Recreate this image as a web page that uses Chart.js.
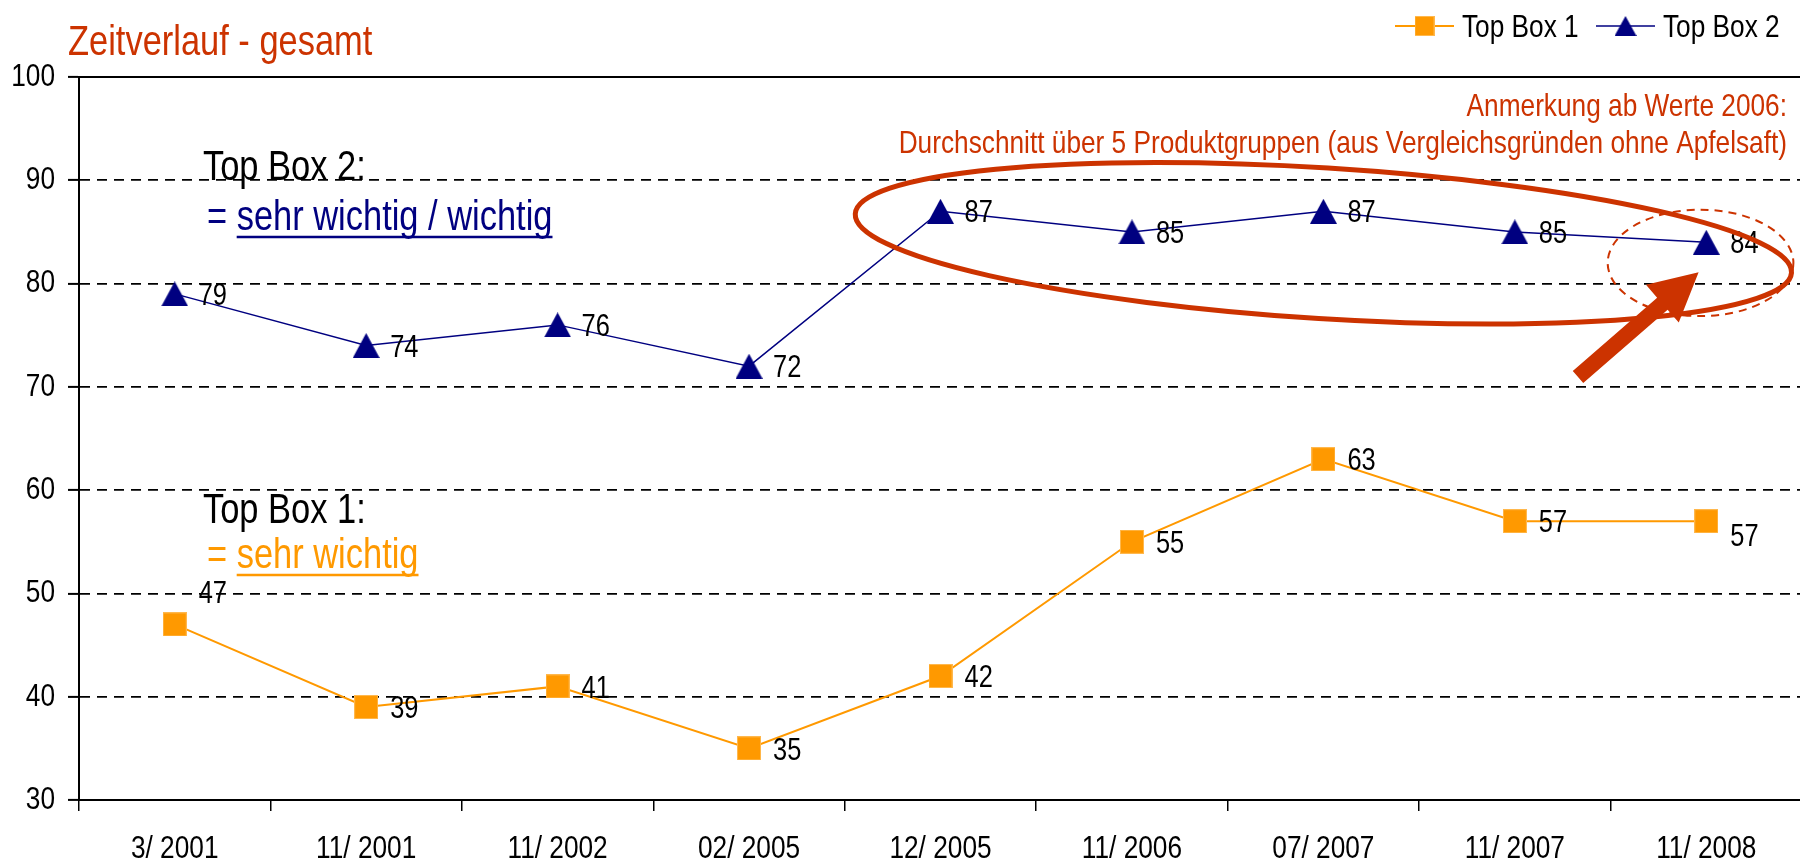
<!DOCTYPE html>
<html><head><meta charset="utf-8">
<script src="https://cdn.jsdelivr.net/npm/chart.js@4.4.1/dist/chart.umd.min.js"></script>
<style>
html,body{margin:0;padding:0;overflow:hidden;background:#fff;width:1800px;height:861px}
#wrap{position:relative;width:1808px;height:861px}
canvas{display:block}
</style></head><body>
<div id="wrap"><canvas id="c" width="1808" height="861"></canvas></div>
<script>
// ---- data ----
const categories = ['3/ 2001','11/ 2001','11/ 2002','02/ 2005','12/ 2005','11/ 2006','07/ 2007','11/ 2007','11/ 2008'];
const topBox1 = [47, 39, 41, 35, 42, 55, 63, 57, 57];
const topBox2 = [79, 74, 76, 72, 87, 85, 87, 85, 84];
const yTicks = [30, 40, 50, 60, 70, 80, 90, 100];
const seriesNames = ['Top Box 1', 'Top Box 2'];

// ---- style ----
const FONT = '"Liberation Sans Narrow","Arial Narrow","Liberation Sans",Arial,sans-serif';
const ORANGE = '#FF9900';
const NAVY = '#000080';
const RED = '#CC3300';

// condensed text rendering (emulates a narrow typeface)
const SX = 0.82;
(function(){
  const P = CanvasRenderingContext2D.prototype;
  const origFill = P.fillText;
  const origMeasure = P.measureText;
  P.fillText = function(t, x, y, maxW){
    this.save();
    this.translate(x, y);
    this.scale(SX, 1);
    if (maxW === undefined || maxW === null) origFill.call(this, t, 0, 0);
    else origFill.call(this, t, 0, 0, maxW / SX);
    this.restore();
  };
  P.measureText = function(t){
    const m = origMeasure.call(this, t);
    return {
      width: m.width * SX,
      actualBoundingBoxAscent: m.actualBoundingBoxAscent,
      actualBoundingBoxDescent: m.actualBoundingBoxDescent,
      actualBoundingBoxLeft: m.actualBoundingBoxLeft * SX,
      actualBoundingBoxRight: m.actualBoundingBoxRight * SX,
      fontBoundingBoxAscent: m.fontBoundingBoxAscent,
      fontBoundingBoxDescent: m.fontBoundingBoxDescent
    };
  };
})();

function makeSquare(size){
  const c = document.createElement('canvas'); c.width = size; c.height = size;
  const x = c.getContext('2d'); x.fillStyle = ORANGE; x.fillRect(0,0,size,size);
  x.strokeStyle = '#FFB84D'; x.lineWidth = 1; x.strokeRect(0.5,0.5,size-1,size-1);
  return c;
}
function makeTriangle(w,h){
  const c = document.createElement('canvas'); c.width = w; c.height = h;
  const x = c.getContext('2d'); x.fillStyle = NAVY;
  x.beginPath(); x.moveTo(w/2,0); x.lineTo(w,h); x.lineTo(0,h); x.closePath(); x.fill();
  return c;
}
const squareImg = makeSquare(24);
const triImg = makeTriangle(27,25);
const squareLegend = makeSquare(20);
const triLegend = makeTriangle(22,20);

// label placement tweaks (dataset index -> point index -> vertical shift)
const labelShift = {0: {0: -33, 8: 14}};

const decorPlugin = {
  id: 'decor',
  afterDatasetsDraw(chart){
    const ctx = chart.ctx;
    const xs = chart.scales.x, ys = chart.scales.y;
    const px = v => xs.getPixelForValue(v);
    const py = v => ys.getPixelForValue(v);
    const unitX = px(1) - px(0);
    const unitY = py(0) - py(1);

    // solid top border at 100
    ctx.save();
    ctx.strokeStyle = '#000'; ctx.lineWidth = 2;
    ctx.beginPath(); ctx.moveTo(chart.chartArea.left, py(100)); ctx.lineTo(chart.chartArea.right, py(100)); ctx.stroke();
    ctx.restore();

    // data labels
    ctx.save();
    const lblSize = 31;
    ctx.font = lblSize + 'px ' + FONT;
    ctx.fillStyle = '#000';
    ctx.textAlign = 'left';
    ctx.textBaseline = 'alphabetic';
    chart.data.datasets.forEach((ds, di) => {
      const meta = chart.getDatasetMeta(di);
      meta.data.forEach((el, i) => {
        const dy = (labelShift[di] && labelShift[di][i]) || 0;
        ctx.fillText(String(ds.data[i]), el.x + 24, el.y + dy + lblSize * 0.36);
      });
    });
    ctx.restore();

    // big ellipse
    ctx.save();
    ctx.strokeStyle = RED; ctx.lineWidth = 5;
    ctx.beginPath();
    ctx.ellipse(px(6.0), py(83.9), 2.45 * unitX, 7.3 * unitY, 3.6 * Math.PI / 180, 0, Math.PI * 2);
    ctx.stroke();
    ctx.restore();

    // dashed small ellipse
    ctx.save();
    ctx.strokeStyle = RED; ctx.lineWidth = 2; ctx.setLineDash([8,6]);
    ctx.beginPath();
    ctx.ellipse(px(7.97), py(82.0), 0.485 * unitX, 5.15 * unitY, 0, 0, Math.PI * 2);
    ctx.stroke();
    ctx.restore();

    // arrow
    const tx = px(7.33), ty = py(70.96), hx = px(7.96), hy = py(81.1);
    const dx = hx - tx, dyy = hy - ty, len = Math.hypot(dx, dyy);
    const ux = dx/len, uy = dyy/len, nx = -uy, ny = ux;
    const headLen = 48, hw = 25, sw = 8;
    const bx = hx - ux*headLen, by = hy - uy*headLen;
    ctx.save();
    ctx.fillStyle = RED;
    ctx.beginPath();
    ctx.moveTo(tx + nx*sw, ty + ny*sw);
    ctx.lineTo(bx + nx*sw, by + ny*sw);
    ctx.lineTo(bx + nx*hw, by + ny*hw);
    ctx.lineTo(hx, hy);
    ctx.lineTo(bx - nx*hw, by - ny*hw);
    ctx.lineTo(bx - nx*sw, by - ny*sw);
    ctx.lineTo(tx - nx*sw, ty - ny*sw);
    ctx.closePath(); ctx.fill();
    ctx.restore();
  },
  afterDraw(chart){
    const ctx = chart.ctx;
    ctx.save();
    ctx.textBaseline = 'alphabetic';
    // title
    ctx.font = '42px ' + FONT; ctx.fillStyle = RED; ctx.textAlign = 'left';
    ctx.fillText('Zeitverlauf - gesamt', 68, 55);

    // annotation
    ctx.font = '32px ' + FONT; ctx.textAlign = 'right';
    ctx.fillText('Anmerkung ab Werte 2006:', 1787, 116);
    ctx.fillText('Durchschnitt über 5 Produktgruppen (aus Vergleichsgründen ohne Apfelsaft)', 1787, 153);

    // Top box explanations
    ctx.textAlign = 'left';
    ctx.font = '42px ' + FONT;
    ctx.fillStyle = '#000';
    ctx.fillText('Top Box 2:', 203, 180);
    ctx.fillText('Top Box 1:', 203, 523);
    const drawEq = (txt, y, color) => {
      ctx.fillStyle = color; ctx.strokeStyle = color;
      ctx.fillText('= ', 207, y);
      const x0 = 207 + ctx.measureText('= ').width;
      ctx.fillText(txt, x0, y);
      const w = ctx.measureText(txt).width;
      ctx.lineWidth = 2.5;
      ctx.beginPath(); ctx.moveTo(x0, y + 7); ctx.lineTo(x0 + w, y + 7); ctx.stroke();
    };
    drawEq('sehr wichtig / wichtig', 230, NAVY);
    drawEq('sehr wichtig', 568, ORANGE);

    // legend
    ctx.font = '32px ' + FONT; ctx.fillStyle = '#000';
    const ly = 26;
    const items = [
      {x0: 1395, x1: 1454, tx: 1462, color: ORANGE, lw: 2, img: squareLegend, name: chart.data.datasets[0].label},
      {x0: 1596, x1: 1655, tx: 1663, color: NAVY, lw: 1.5, img: triLegend, name: chart.data.datasets[1].label}
    ];
    items.forEach(it => {
      ctx.strokeStyle = it.color; ctx.lineWidth = it.lw;
      ctx.beginPath(); ctx.moveTo(it.x0, ly); ctx.lineTo(it.x1, ly); ctx.stroke();
      const cx = (it.x0 + it.x1) / 2;
      ctx.drawImage(it.img, cx - it.img.width/2, ly - it.img.height/2);
      ctx.fillStyle = '#000';
      ctx.fillText(it.name, it.tx, 37);
    });
    ctx.restore();
  }
};

new Chart(document.getElementById('c'), {
  type: 'line',
  data: {
    labels: categories,
    datasets: [
      {label: seriesNames[0], data: topBox1, borderColor: ORANGE, backgroundColor: ORANGE, borderWidth: 2,
       pointStyle: squareImg, tension: 0, clip: false},
      {label: seriesNames[1], data: topBox2, borderColor: NAVY, backgroundColor: NAVY, borderWidth: 1.5,
       pointStyle: triImg, tension: 0, clip: false}
    ]
  },
  options: {
    responsive: false,
    devicePixelRatio: 1,
    animation: false,
    events: [],
    layout: {padding: {top: 77, right: 2, left: 0, bottom: 0}},
    plugins: {legend: {display: false}, title: {display: false}, tooltip: {enabled: false}},
    scales: {
      x: {
        type: 'category',
        offset: true,
        grid: {offset: true, drawOnChartArea: false, drawTicks: true, tickLength: 11, color: '#000', lineWidth: 1.5},
        border: {display: true, color: '#000', width: 2},
        ticks: {font: {family: FONT, size: 32}, color: '#000', padding: 19, maxRotation: 0, autoSkip: false},
        afterFit(s){ s.height = 61; }
      },
      y: {
        min: 30, max: 100,
        afterBuildTicks(s){ s.ticks = yTicks.map(v => ({value: v})); },
        grid: {color: '#000', lineWidth: 1.8, tickLength: 11, drawTicks: true, tickWidth: 2},
        border: {display: true, color: '#000', width: 2, dash: [10, 7]},
        ticks: {font: {family: FONT, size: 32}, color: '#000', padding: 13},
        afterFit(s){ s.width = 79; }
      }
    }
  },
  plugins: [decorPlugin]
});
</script>
</body></html>
